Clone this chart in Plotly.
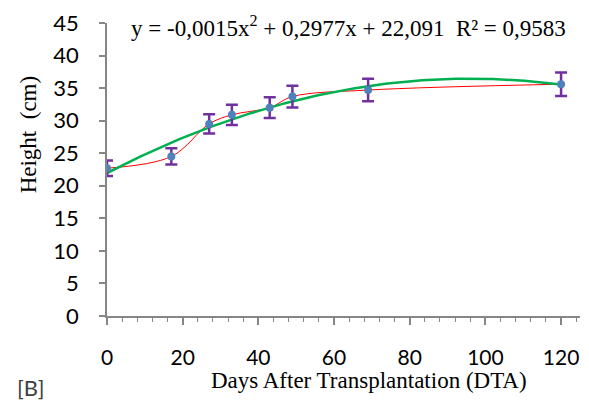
import numpy as np
import plotly.graph_objects as go

# Data
days = [0, 17, 27, 33, 43, 49, 69, 120]
height = [22.7, 24.5, 29.5, 30.9, 32.0, 33.7, 34.7, 35.6]
err = [1.2, 1.25, 1.47, 1.55, 1.6, 1.68, 1.73, 1.8]

# Polynomial trendline coefficients as printed on the chart
trend_label_coef = [-0.0015, 0.2977, 22.091]
r2 = 0.9583

x_ticks = [0, 20, 40, 60, 80, 100, 120]
y_ticks = [0, 5, 10, 15, 20, 25, 30, 35, 40, 45]

# second-order polynomial trendline fitted to the data
fit = np.polyfit(days, height, 2)
xt = np.linspace(min(days), max(days), 200)
yt = np.polyval(fit, xt)

axis_col = "#868686"
fig = go.Figure()

fig.add_trace(go.Scatter(x=days, y=height, mode="lines",
                         line=dict(color="#FF0000", width=1, shape="spline", smoothing=1),
                         hoverinfo="skip", showlegend=False))
fig.add_trace(go.Scatter(x=xt, y=yt, mode="lines",
                         line=dict(color="#00B050", width=2.5),
                         hoverinfo="skip", showlegend=False))
fig.add_trace(go.Scatter(x=days, y=height, mode="markers",
                         marker=dict(color="#4F81BD", size=8),
                         error_y=dict(type="data", array=err, visible=True,
                                      color="#7030A0", thickness=2.5, width=6),
                         showlegend=False))

fig.update_xaxes(range=[0, 125], tickvals=x_ticks, ticktext=[str(v) for v in x_ticks],
                 showgrid=False, zeroline=False, showline=True, linecolor=axis_col, linewidth=1.5,
                 ticks="outside", ticklen=7, tickwidth=1.5, tickcolor=axis_col,
                 minor=dict(dtick=4, tick0=0, ticks="outside", ticklen=4, tickwidth=1.2,
                            tickcolor=axis_col, showgrid=False),
                 tickfont=dict(family="Lato", size=21, color="#000000"), ticklabelstandoff=15)
fig.update_yaxes(range=[0, 45], tickvals=y_ticks, ticktext=[str(v) for v in y_ticks],
                 showgrid=False, zeroline=False, showline=True, linecolor=axis_col, linewidth=1.5,
                 ticks="outside", ticklen=6, tickwidth=1.5, tickcolor=axis_col,
                 tickfont=dict(family="Lato", size=22, color="#000000"), ticklabelstandoff=16)


def fmt(v, d):
    return f"{v:.{d}f}".replace(".", ",")


eq = ("y = " + fmt(trend_label_coef[0], 4) + "x<sup>2</sup> + "
      + fmt(trend_label_coef[1], 4) + "x + " + fmt(trend_label_coef[2], 3)
      + "&nbsp; R² = " + fmt(r2, 4))

serif = "Liberation Serif"
fig.update_layout(
    width=589, height=409,
    margin=dict(l=107, r=9, t=16, b=93),
    plot_bgcolor="white", paper_bgcolor="white",
    annotations=[
        dict(text=eq, x=0.51, y=0.987, xref="paper", yref="paper", showarrow=False,
             xanchor="center", yanchor="middle", font=dict(family=serif, size=23, color="black")),
        dict(text="Days After Transplantation (DTA)", x=0.554, y=-0.219, xref="paper", yref="paper",
             showarrow=False, xanchor="center", yanchor="middle",
             font=dict(family=serif, size=23, color="black")),
        dict(text="Height&nbsp; (cm)", x=-0.167, y=0.62, xref="paper", yref="paper", textangle=-90,
             showarrow=False, xanchor="center", yanchor="middle",
             font=dict(family=serif, size=23, color="black")),
        dict(text="[B]", x=-0.161, y=-0.243, xref="paper", yref="paper", showarrow=False,
             xanchor="center", yanchor="middle", font=dict(family="Lato", size=22, color="#404040")),
    ],
)

fig.write_html("out.html")
